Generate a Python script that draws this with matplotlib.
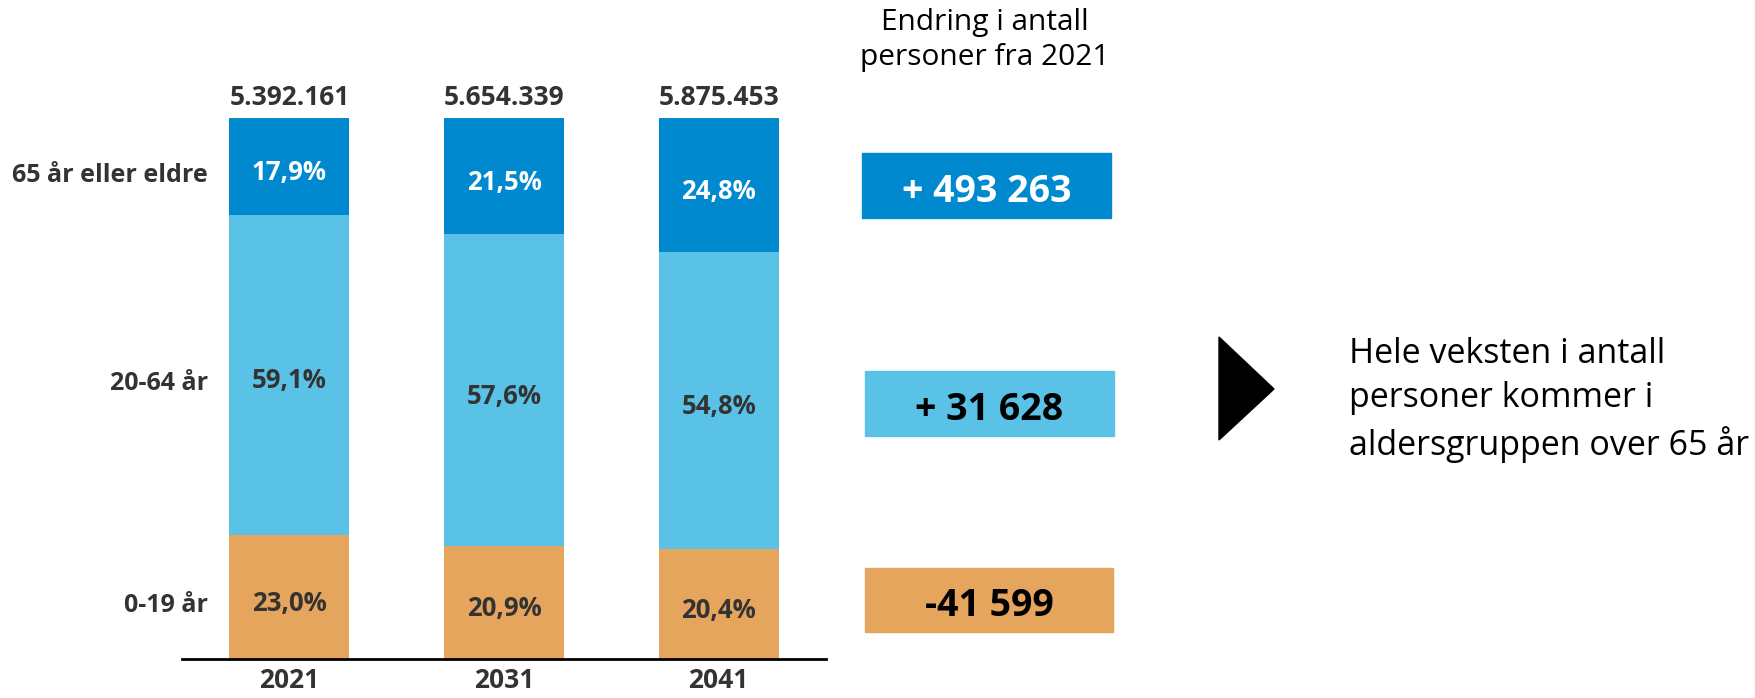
import matplotlib.pyplot as plt
from matplotlib.patches import Rectangle, Polygon

# data
years = ["2021", "2031", "2041"]
totals = ["5.392.161", "5.654.339", "5.875.453"]
groups = ["0-19 år", "20-64 år", "65 år eller eldre"]
share_0_19 = [23.0, 20.9, 20.4]
share_20_64 = [59.1, 57.6, 54.8]
share_65 = [17.9, 21.5, 24.8]
changes = ["-41 599", "+ 31 628", "+ 493 263"]

colors = ["#E5A55D", "#5BC2E7", "#0089CF"]
label_colors = ["#333333", "#333333", "white"]
dark = "#333333"

W, H = 1755, 698
plt.rcParams['font.family'] = ['Open Sans', 'DejaVu Sans']

fig = plt.figure(figsize=(W / 100, H / 100), dpi=100)

def fx(px):
    return px / W

def fy(py):
    return 1 - py / H

# bar axes: 182..826 px horizontally, 118..659 px vertically
ax = fig.add_axes([fx(182), fy(659), (826 - 182) / W, (659 - 118) / H])
x = range(len(years))
series = [share_0_19, share_20_64, share_65]
bottom = [0, 0, 0]
for vals, c, lc in zip(series, colors, label_colors):
    ax.bar(x, vals, bottom=bottom, width=0.558, color=c)
    for i, v in enumerate(vals):
        ax.text(i, bottom[i] + v / 2 - 0.6, f"{v:.1f}".replace(".", ",") + "%",
                ha="center", va="center_baseline", fontsize=18.5,
                fontweight="bold", color=lc)
    bottom = [b + v for b, v in zip(bottom, vals)]

for i, t in enumerate(totals):
    ax.text(i, 101.3, t, ha="center", va="bottom", fontsize=19,
            fontweight="bold", color=dark)

ax.set_xlim(-0.5, 2.5)
ax.set_ylim(0, 100)
for s in ["top", "right", "left"]:
    ax.spines[s].set_visible(False)
ax.spines["bottom"].set_linewidth(2)
ax.spines["bottom"].set_color("black")
ax.set_yticks([])
ax.set_xticks(list(x))
ax.set_xticklabels(years, fontsize=19, fontweight="bold", color=dark)
ax.tick_params(axis="x", length=0, pad=6)

# group labels on the left
for g, py in zip(groups, [602, 381, 172]):
    fig.text(fx(208), fy(py), g, ha="right", va="center_baseline", fontsize=18,
             fontweight="bold", color=dark)

# change header
fig.text(fx(985), fy(40), "Endring i antall\npersoner fra 2021", ha="center",
         va="center", fontsize=21.5, color="black", linespacing=1.3)

# change boxes
boxes = [(865, 568, 1113, 632), (865, 371, 1114, 436), (862, 153, 1111, 218)]
box_text = ["black", "black", "white"]
for (x0, y0, x1, y1), c, tc, txt in zip(boxes, colors, box_text, changes):
    fig.add_artist(Rectangle((fx(x0), fy(y1)), (x1 - x0) / W, (y1 - y0) / H,
                             transform=fig.transFigure, color=c))
    fig.text(fx((x0 + x1) / 2), fy((y0 + y1) / 2 + 2), txt, ha="center",
             va="center_baseline", fontsize=27, fontweight="bold", color=tc)

# arrow
fig.add_artist(Polygon([(fx(1219), fy(337)), (fx(1274), fy(389)), (fx(1219), fy(440))],
                       closed=True, transform=fig.transFigure, color="black"))

fig.text(fx(1349), fy(400), "Hele veksten i antall\npersoner kommer i\naldersgruppen over 65 år",
         ha="left", va="center", fontsize=24.5, color="black", linespacing=1.4)

fig.savefig("out.png", dpi=100)
